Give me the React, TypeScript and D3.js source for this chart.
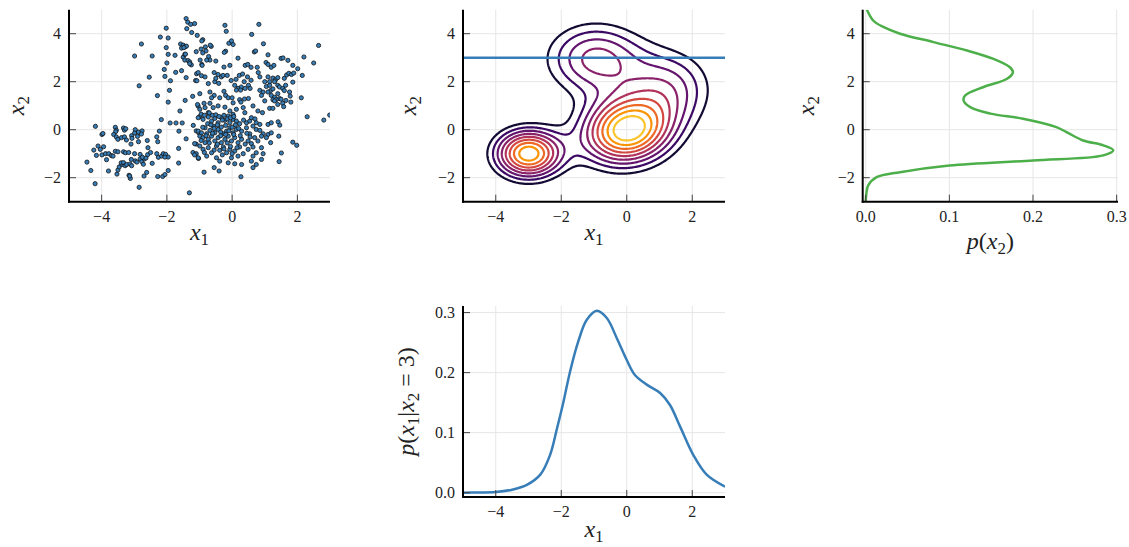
import React from 'react';
import * as d3 from 'd3';

const W = 1129, H = 547;

// ---------- data ----------
const samples: [number, number][] = [
  // lower-left cluster
  [-4.19,0.14],[-3.99,-0.2],[-3.96,-0.16],[-3.58,0.1],[-3.55,-0.02],[-3.57,-0.08],[-3.33,0.07],[-3.3,-0.02],[-3.26,0.04],
  [-3.63,-0.2],[-3.55,-0.3],[-3.5,-0.4],[-3.39,-0.33],[-3.3,-0.3],[-3.24,-0.43],[-2.97,0.0],[-2.99,-0.14],[-2.87,-0.1],
  [-2.76,-0.05],[-2.78,-0.18],[-3.08,-0.25],[-3.07,-0.36],[-3.1,-0.6],[-2.9,-0.28],[-2.87,-0.5],[-2.58,-0.75],[-2.6,-0.45],
  [-2.31,-0.3],[-2.28,-0.5],[-2.23,-0.06],[-4.24,-0.85],[-4.16,-1.07],[-4.11,-0.68],[-4.04,-0.82],[-3.94,-0.71],
  [-4.45,-1.35],[-4.33,-1.7],[-4.2,-2.25],[-3.99,-1.05],[-3.88,-1.0],[-3.78,-1.0],[-3.7,-1.08],[-3.58,-0.9],[-3.5,-0.92],
  [-3.33,-0.92],[-3.27,-0.96],[-3.17,-0.95],[-3.79,-1.72],[-3.53,-1.85],[-3.5,-1.68],[-3.46,-1.55],[-3.38,-1.45],
  [-3.4,-1.38],[-3.33,-1.37],[-3.28,-1.5],[-3.23,-1.45],[-3.13,-1.43],[-3.08,-1.5],[-3.16,-1.9],[-3.12,-2.03],[-3.14,-1.93],
  [-2.97,-1.3],[-2.92,-1.35],[-2.82,-1.22],[-2.77,-1.33],[-2.72,-1.44],[-2.69,-1.22],[-2.99,-1.0],[-2.82,-1.03],
  [-2.75,-1.15],[-2.64,-1.18],[-2.59,-1.04],[-2.62,-1.78],[-2.7,-1.93],[-2.85,-2.4],[-3.09,-1.24],[-2.31,-1.0],
  [-2.26,-1.15],[-2.16,-1.1],[-2.11,-1.0],[-2.04,-1.03],[-1.96,-1.14],[-2.06,-1.14],[-2.28,-1.95],[-2.13,-1.95],
  [-2.06,-1.87],[-1.96,-1.7],[-3.65,-1.1],[-3.85,-1.25],[-2.45,-1.4],[-2.5,-0.95],
  [-1.64,-1.39],[-1.64,-0.78],[-1.31,-2.63],[-1.41,-0.38],[-1.6,0.78],[-1.04,0.98],[-1.0,0.54],[-2.17,0.42],
  [-1.9,0.28],[-1.72,0.28],[-1.53,0.28],[-1.63,-0.06],[-1.19,0.18],[-1.1,-0.05],[-1.02,-0.13],[-1.1,-0.6],[-1.15,-0.58],
  [-1.2,-0.95],[-1.1,-1.0],[-1.03,-1.2],[-1.15,-1.05],
  // upper-left cluster
  [-1.41,4.63],[-1.36,4.48],[-1.27,4.39],[-1.15,4.42],[-2.02,4.23],[-1.39,4.21],[-1.24,4.05],[-1.07,3.93],[-2.2,3.86],
  [-1.96,3.82],[-2.78,3.57],[-1.58,3.57],[-1.5,3.52],[-1.45,3.45],[-1.4,3.48],[-1.55,3.4],[-1.48,3.42],[-2.02,3.42],
  [-1.1,3.25],[-2.99,3.07],[-2.45,3.07],[-1.96,3.14],[-1.75,3.1],[-1.5,3.02],[-1.45,3.14],[-1.43,3.15],[-1.45,2.9],
  [-1.35,2.88],[-1.3,2.82],[-1.25,2.7],[-1.3,2.75],[-2.0,2.78],[-2.08,2.51],[-1.73,2.39],[-1.55,2.46],[-1.09,2.33],
  [-2.54,2.19],[-2.06,2.22],[-1.89,2.04],[-1.41,2.17],[-1.12,2.05],[-1.08,2.04],[-2.85,1.83],[-1.92,1.64],[-2.29,1.42],
  [-1.96,1.15],[-1.44,1.22],[-1.21,1.39],[-1.06,1.05],
  // upper-right
  [-0.22,4.35],[-0.18,4.1],[0.82,4.39],[0.6,3.97],[-0.9,3.75],[-0.93,3.7],[-0.82,3.45],[-0.64,3.47],[-0.67,3.52],
  [-0.1,3.6],[0.03,3.55],[-0.02,3.7],[0.96,3.58],[-0.95,3.36],[-0.8,3.28],[-0.9,3.2],[-0.2,3.27],[-0.24,3.22],
  [0.68,3.24],[0.72,3.28],[1.1,3.12],[0.18,2.98],[1.5,2.97],[1.56,2.99],[1.71,2.89],[2.2,3.03],[2.65,3.51],[2.5,2.78],
  [-0.98,2.9],[-0.72,3.05],[-0.68,2.9],[-0.78,2.9],[-0.5,2.86],[-0.93,2.72],[-0.92,2.68],[-0.07,2.68],[-0.25,2.61],
  [0.4,2.68],[0.48,2.72],[0.58,2.6],[0.77,2.6],[1.04,2.8],[1.1,2.72],[1.2,2.6],[1.28,2.68],[1.86,2.68],[2.01,2.54],
  [-1.04,2.38],[-0.94,2.25],[-0.83,2.2],[-0.55,2.38],[-0.43,2.3],[-0.33,2.2],[-0.28,2.26],[-0.15,2.26],[-0.03,2.05],
  [0.12,2.1],[0.22,2.26],[0.32,2.32],[0.47,2.2],[0.37,2.0],[0.58,2.06],[0.8,2.38],[0.85,2.2],[1.1,2.2],[1.15,2.0],
  [1.25,2.15],[1.33,2.08],[1.4,2.17],[1.6,2.14],[1.67,2.28],[1.74,2.35],[1.82,2.3],[1.89,2.36],[1.86,1.98],[2.15,2.26],
  [-0.53,2.0],[-0.41,1.93],[-0.5,2.14],[-0.73,1.92],[0.08,1.85],[0.18,1.72],[0.28,1.78],[0.13,1.65],[0.26,1.65],
  [0.5,1.85],[0.55,1.72],[0.4,1.72],[1.0,2.0],[1.05,1.8],[1.15,1.85],[1.18,1.63],[1.25,1.7],[1.3,2.0],[1.4,1.85],
  [1.45,1.78],[1.55,1.72],[1.6,1.63],[1.64,1.85],[1.76,1.57],[1.78,1.4],[2.12,1.33],[0.85,1.64],[0.95,1.57],[0.9,1.43],
  [1.1,1.57],[1.2,1.43],[1.3,1.35],[1.4,1.5],[1.45,1.3],[1.25,1.25],[1.35,1.25],[1.5,1.27],[1.65,1.22],[1.8,1.15],
  [1.55,1.1],[1.4,1.05],[-0.99,1.5],[-0.68,1.57],[-0.55,1.43],[-0.63,1.33],[-0.38,1.33],[-0.25,1.6],[-0.2,1.43],
  [-0.12,1.33],[0.0,1.33],[0.23,1.25],[0.38,1.28],[0.5,1.3],[-0.86,1.1],[-0.68,1.1],[0.03,1.12],[0.27,1.15],[1.0,1.2],[1.3,1.2],
  // central cluster
  [-0.99,0.85],[-0.83,0.92],[-0.73,0.71],[-0.58,0.92],[-0.43,0.99],[-0.22,0.94],[-0.07,0.78],[0.03,0.64],[0.13,0.85],
  [0.34,0.92],[0.39,0.71],[0.64,0.99],[0.79,0.78],[0.93,0.71],[1.15,0.89],[1.25,0.89],[1.58,0.96],
  [-1.04,0.5],[-0.89,0.43],[-0.73,0.53],[-0.63,0.36],[-0.53,0.47],[-0.43,0.29],[-0.33,0.5],[-0.22,0.39],[-0.12,0.57],
  [-0.07,0.29],[0.03,0.43],[0.13,0.36],[0.23,0.25],[0.44,0.29],[0.54,0.36],[0.59,0.5],[0.74,0.29],[0.85,0.22],
  [1.1,0.22],[1.2,0.29],[1.41,0.33],[1.46,0.19],[2.3,0.54],[2.81,0.4],[2.99,0.61],
  [-1.04,-0.06],[-0.94,-0.13],[-0.83,0.08],[-0.78,-0.17],[-0.68,-0.03],[-0.58,0.15],[-0.53,-0.13],[-0.43,0.01],
  [-0.33,0.11],[-0.27,-0.17],[-0.17,-0.06],[-0.07,0.08],[0.03,-0.13],[0.13,0.01],[0.29,-0.06],[0.44,0.08],[0.54,-0.17],
  [0.64,0.15],[0.74,0.01],[0.85,-0.03],[0.95,-0.17],[1.1,-0.2],[1.2,-0.13],[1.43,-0.27],
  [-0.99,-0.27],[-0.89,-0.33],[-0.83,-0.54],[-0.73,-0.4],[-0.63,-0.27],[-0.53,-0.47],[-0.43,-0.33],[-0.33,-0.54],
  [-0.22,-0.4],[-0.12,-0.27],[-0.02,-0.47],[0.08,-0.33],[0.18,-0.54],[0.29,-0.4],[0.49,-0.47],[0.59,-0.58],[0.69,-0.33],
  [0.79,-0.47],[0.9,-0.27],[1.05,-0.33],[1.18,-0.54],[1.86,-0.52],[1.98,-0.65],
  [-0.99,-0.68],[-0.89,-0.82],[-0.73,-0.75],[-0.63,-0.96],[-0.48,-0.68],[-0.38,-0.86],[-0.27,-0.72],[-0.17,-0.96],
  [-0.07,-0.82],[0.08,-0.89],[0.23,-0.72],[0.34,-1.0],[0.49,-0.82],[0.64,-0.72],[0.74,-0.96],[0.9,-0.75],[0.95,-1.0],[1.51,-0.97],
  [-1.04,-1.17],[-0.78,-1.1],[-0.48,-1.17],[-0.38,-1.31],[-0.12,-1.38],[-0.02,-1.17],[0.18,-1.1],[0.29,-1.45],[0.08,-1.42],
  [0.59,-1.31],[0.64,-1.1],[0.74,-1.45],[0.9,-1.24],[1.44,-1.33],[-0.55,-1.58],[-0.4,-1.72],[-0.86,-1.77],[0.27,-1.96],[0.64,-1.58],
  [-0.95,0.65],[-0.85,0.6],[-0.7,0.7],[-0.6,0.6],[-0.5,0.62],[-0.4,0.55],[-0.3,0.4],[-0.25,0.6],[-0.15,0.45],[-0.05,0.5],
  [0.05,0.55],[0.1,0.2],[-0.9,0.1],[-0.75,0.25],[-0.65,0.2],[-0.55,0.05],[-0.45,0.2],[-0.35,-0.1],[-0.2,0.18],[-0.1,-0.05],
  [0.0,0.1],[0.2,0.05],[-0.95,-0.45],[-0.8,-0.25],[-0.7,-0.55],[-0.6,-0.15],[-0.45,-0.6],[-0.35,-0.25],[-0.25,-0.8],
  [-0.15,-0.55],[-0.05,-0.7],[0.05,-0.2],[0.15,-0.75],[0.25,-0.25],[-0.85,-0.95],[-0.55,-0.85],[-0.3,-1.05],[0.0,-1.0],
  [0.4,-0.6],[0.35,0.4],[0.55,-0.3],[0.7,0.45],[0.45,-0.15],[-0.2,-0.2],
];

// Gaussian-mixture components used for the contour panel: weight, mean, covariance [sxx, sxy, syy]
const mixWeights = [0.195, 0.3913, 0.235, 0.1756];
const mixMeans: [number, number][] = [[-3, -1], [0, -0.05], [-0.95, 2.95], [1.3, 1.75]];
const mixCovs: [number, number, number][] = [[0.5, 0, 0.5], [0.9, 0.08, 0.95], [1.1, 0.0, 1.1], [0.9, 0.0, 1.3]];
const contourLevels = [0.01277, 0.01915, 0.02554, 0.03192, 0.0383, 0.04469, 0.05107, 0.05746, 0.06384];
const conditionValue = 3;

// marginal p(x2)
const margX2 = [-3.0, -2.6, -2.32, -1.98, -1.77, -1.49, -1.28, -1.07, -0.86, -0.65, -0.45, -0.1, 0.11, 0.46, 0.67, 0.94, 1.22, 1.43, 1.78, 2.12, 2.4, 2.61, 2.96, 3.3, 3.65, 4.0, 4.28, 4.55, 5.0];
const margP = [0.0, 0.001, 0.003, 0.013, 0.041, 0.1, 0.2, 0.284, 0.296, 0.284, 0.26, 0.24, 0.228, 0.188, 0.149, 0.125, 0.117, 0.119, 0.141, 0.169, 0.176, 0.172, 0.152, 0.121, 0.081, 0.041, 0.021, 0.009, 0.0015];

// conditional p(x1 | x2 = 3)
const condX1 = [-5, -4.5, -4, -3.5, -3.05, -2.64, -2.34, -2.13, -1.93, -1.73, -1.48, -1.22, -0.91, -0.61, -0.3, 0, 0.25, 0.61, 1.02, 1.32, 1.63, 2.03, 2.44, 3.0];
const condP = [0.0, 0.0003, 0.001, 0.005, 0.013, 0.03, 0.063, 0.107, 0.152, 0.202, 0.252, 0.288, 0.303, 0.291, 0.257, 0.221, 0.196, 0.18, 0.166, 0.146, 0.11, 0.063, 0.03, 0.01];

const x1Ticks = [-4, -2, 0, 2];
const x2Ticks = [-2, 0, 2, 4];
const pTicks = [0, 0.1, 0.2, 0.3];

// ---------- helpers ----------
const FONT = "'Liberation Serif', 'DejaVu Serif', serif";
const BLUE = '#377eb8';
const GREEN = '#4daf4a';
const fmtX = (v: number) => (v < 0 ? '\u2212' + Math.abs(v) : String(v));
const fmtP = (v: number) => v.toFixed(1);

function gauss2(x: number, y: number, m: [number, number], c: [number, number, number]) {
  const [a, b, d] = c;
  const det = a * d - b * b;
  const dx = x - m[0], dy = y - m[1];
  const q = (d * dx * dx - 2 * b * dx * dy + a * dy * dy) / det;
  return Math.exp(-q / 2) / (2 * Math.PI * Math.sqrt(det));
}
function mixDensity(x: number, y: number) {
  let s = 0;
  for (let k = 0; k < mixWeights.length; k++) s += mixWeights[k] * gauss2(x, y, mixMeans[k], mixCovs[k]);
  return s;
}

type Box = { l: number; r: number; t: number; b: number };
const TS = 16; // tick size

function Frame({ box, xs, ys, xt, yt, fx, fy, id, children }: any) {
  return (
    <g>
      <defs>
        <clipPath id={id}><rect x={box.l} y={box.t} width={box.r - box.l} height={box.b - box.t} /></clipPath>
      </defs>
      {xt.map((v: number) => (
        <line key={'gx' + v} x1={xs(v)} x2={xs(v)} y1={box.t} y2={box.b} stroke="#e6e6e6" strokeWidth={1} />
      ))}
      {yt.map((v: number) => (
        <line key={'gy' + v} x1={box.l} x2={box.r} y1={ys(v)} y2={ys(v)} stroke="#e6e6e6" strokeWidth={1} />
      ))}
      <g clipPath={`url(#${id})`}>{children}</g>
      {xt.map((v: number) => (
        <line key={'tx' + v} x1={xs(v)} x2={xs(v)} y1={box.b} y2={box.b - 7} stroke="#444" strokeWidth={1} />
      ))}
      {yt.map((v: number) => (
        <line key={'ty' + v} x1={box.l} x2={box.l + 7} y1={ys(v)} y2={ys(v)} stroke="#444" strokeWidth={1} />
      ))}
      <line x1={box.l} x2={box.l} y1={box.t} y2={box.b + 1} stroke="#000" strokeWidth={2} />
      <line x1={box.l - 1} x2={box.r} y1={box.b} y2={box.b} stroke="#000" strokeWidth={2} />
      {xt.map((v: number) => (
        <text key={'lx' + v} x={xs(v)} y={box.b + 20} textAnchor="middle" style={{ fontFamily: FONT, fontSize: TS }} fill="#222">{fx(v)}</text>
      ))}
      {yt.map((v: number) => (
        <text key={'ly' + v} x={box.l - 8} y={ys(v) + 5} textAnchor="end" style={{ fontFamily: FONT, fontSize: TS }} fill="#222">{fy(v)}</text>
      ))}
    </g>
  );
}

const LS = 24; // label size
const SUB = 17;
function XSub({ x, y, name, sub, rotate }: any) {
  return (
    <text x={x} y={y} textAnchor="middle" style={{ fontFamily: FONT, fontSize: LS }} fill="#222"
      transform={rotate ? `rotate(-90 ${x} ${y})` : undefined}>
      <tspan fontStyle="italic">{name}</tspan><tspan style={{ fontSize: SUB }} dy={5}>{sub}</tspan>
    </text>
  );
}

export default function App() {
  const yTop = 9.7, yBot = 201.7;
  const p1: Box = { l: 69, r: 330, t: yTop, b: yBot };
  const p2: Box = { l: 463, r: 725, t: yTop, b: yBot };
  const p3: Box = { l: 862.7, r: 1118, t: yTop, b: yBot };
  const p4: Box = { l: 463, r: 725, t: 306, b: 497 };

  const xs1 = d3.scaleLinear().domain([-5, 3]).range([p1.l, p1.r]);
  const ys1 = d3.scaleLinear().domain([-3, 5]).range([p1.b, p1.t]);
  const xs2 = d3.scaleLinear().domain([-5, 3]).range([p2.l, p2.r]);
  const ys2 = d3.scaleLinear().domain([-3, 5]).range([p2.b, p2.t]);
  const xs3 = d3.scaleLinear().domain([-0.0036, 0.3016]).range([p3.l, p3.r]);
  const ys3 = d3.scaleLinear().domain([-3, 5]).range([p3.b, p3.t]);
  const xs4 = d3.scaleLinear().domain([-5, 3]).range([p4.l, p4.r]);
  const ys4 = d3.scaleLinear().domain([-0.0072, 0.311]).range([p4.b, p4.t]);

  // contour grid
  const nx = 240, ny = 240;
  const gx0 = -5, gx1 = 3, gy0 = -3, gy1 = 5;
  const dx = (gx1 - gx0) / nx, dy = (gy1 - gy0) / ny;
  const grid = new Array(nx * ny);
  for (let j = 0; j < ny; j++) {
    const yv = gy1 - (j + 0.5) * dy;
    for (let i = 0; i < nx; i++) grid[j * nx + i] = mixDensity(gx0 + (i + 0.5) * dx, yv);
  }
  const contours = d3.contours().size([nx, ny]).thresholds(contourLevels)(grid);
  const proj = d3.geoTransform({
    point(x: number, y: number) {
      (this as any).stream.point(xs2(gx0 + x * dx), ys2(gy1 - y * dy));
    },
  });
  const cpath = d3.geoPath(proj);
  const nL = contourLevels.length;
  const colorOf = (k: number) => d3.interpolateInferno(0.09 + k * (0.86 - 0.09) / (nL - 1));

  const margLine = d3.line<number>().x((_, i) => xs3(margP[i])).y((v) => ys3(v)).curve(d3.curveCatmullRom.alpha(0.5));
  const condLine = d3.line<number>().x((v) => xs4(v)).y((_, i) => ys4(condP[i])).curve(d3.curveCatmullRom.alpha(0.5));
  const p4mid = (p4.t + p4.b) / 2;

  return (
    <svg width={W} height={H} style={{ position: 'absolute', left: 0, top: 0, background: '#fff' }}>
      {/* Panel 1: samples */}
      <Frame box={p1} xs={xs1} ys={ys1} xt={x1Ticks} yt={x2Ticks} fx={fmtX} fy={fmtX} id="c1">
        {samples.map((s, i) => (
          <circle key={i} cx={xs1(s[0])} cy={ys1(s[1])} r={2.1} fill={BLUE} stroke="#111" strokeWidth={0.8} />
        ))}
      </Frame>
      <XSub x={(p1.l + p1.r) / 2} y={240} name="x" sub="1" />
      <XSub x={24} y={(p1.t + p1.b) / 2} name="x" sub="2" rotate />

      {/* Panel 2: contours */}
      <Frame box={p2} xs={xs2} ys={ys2} xt={x1Ticks} yt={x2Ticks} fx={fmtX} fy={fmtX} id="c2">
        {contours.map((c, k) => (
          <path key={k} d={cpath(c as any) || ''} fill="none" stroke={colorOf(k)} strokeWidth={2.2} strokeLinejoin="round" />
        ))}
        <line x1={xs2(-5)} x2={xs2(3)} y1={ys2(conditionValue)} y2={ys2(conditionValue)} stroke={BLUE} strokeWidth={2.5} />
      </Frame>
      <XSub x={(p2.l + p2.r) / 2} y={240} name="x" sub="1" />
      <XSub x={416} y={(p2.t + p2.b) / 2} name="x" sub="2" rotate />

      {/* Panel 3: marginal */}
      <Frame box={p3} xs={xs3} ys={ys3} xt={pTicks} yt={x2Ticks} fx={fmtP} fy={fmtX} id="c3">
        <path d={margLine(margX2) || ''} fill="none" stroke={GREEN} strokeWidth={2.5} />
      </Frame>
      <text x={(p3.l + p3.r) / 2} y={249} textAnchor="middle" style={{ fontFamily: FONT, fontSize: LS }} fill="#222">
        <tspan fontStyle="italic">p</tspan>(<tspan fontStyle="italic">x</tspan><tspan style={{ fontSize: SUB }} dy={5}>2</tspan><tspan dy={-5}>)</tspan>
      </text>
      <XSub x={814} y={(p3.t + p3.b) / 2} name="x" sub="2" rotate />

      {/* Panel 4: conditional */}
      <Frame box={p4} xs={xs4} ys={ys4} xt={x1Ticks} yt={pTicks} fx={fmtX} fy={fmtP} id="c4">
        <path d={condLine(condX1) || ''} fill="none" stroke={BLUE} strokeWidth={2.5} />
      </Frame>
      <XSub x={(p4.l + p4.r) / 2} y={537} name="x" sub="1" />
      <text x={414} y={p4mid} textAnchor="middle" style={{ fontFamily: FONT, fontSize: LS }} fill="#222"
        transform={`rotate(-90 414 ${p4mid})`}>
        <tspan fontStyle="italic">p</tspan>(<tspan fontStyle="italic">x</tspan><tspan style={{ fontSize: SUB }} dy={5}>1</tspan>
        <tspan dy={-5}>|</tspan><tspan fontStyle="italic">x</tspan><tspan style={{ fontSize: SUB }} dy={5}>2</tspan>
        <tspan dy={-5}>{' = 3)'}</tspan>
      </text>
    </svg>
  );
}
